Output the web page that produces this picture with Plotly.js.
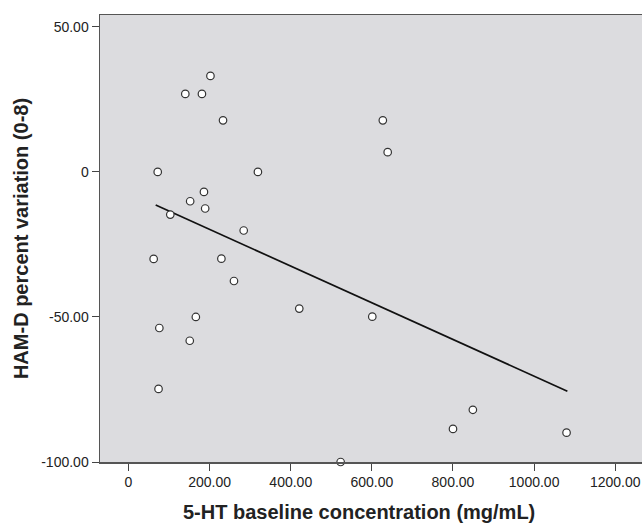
<!DOCTYPE html>
<html>
<head>
<meta charset="utf-8">
<script src="https://cdn.plot.ly/plotly-3.0.1.min.js"></script>
<style>
html,body{margin:0;padding:0;overflow:hidden;background:#fff;width:642px;height:530px;}
#chart{width:660px;height:530px;}
</style>
</head>
<body>
<div id="chart"></div>
<script>
// 5-HT baseline concentration (x) vs HAM-D percent variation (y)
var serotonin = [202, 140, 181, 233, 627, 639, 72, 319, 186, 152, 189, 103, 284, 62, 229, 260, 421, 601, 166, 76, 151, 74, 849, 800, 1080, 523];
var hamdVariation = [33.1, 26.9, 26.9, 17.8, 17.8, 6.8, 0, 0, -6.9, -10.1, -12.6, -14.7, -20.2, -30, -29.9, -37.6, -47.1, -49.9, -50, -53.8, -58.2, -74.8, -82, -88.6, -89.9, -100];
// fitted regression line end points
var fitX = [67, 1082];
var fitY = [-11.4, -75.6];
// axis ticks
var xTickVals = [0, 200, 400, 600, 800, 1000, 1200];
var xTickText = ["0", "200.00", "400.00", "600.00", "800.00", "1000.00", "1200.00"];
var yTickVals = [50, 0, -50, -100];
var yTickText = ["50.00", "0", "-50.00", "-100.00"];

var traces = [
  {
    x: fitX, y: fitY, type: 'scatter', mode: 'lines',
    line: {color: '#111111', width: 1.7}, hoverinfo: 'skip', showlegend: false, cliponaxis: false
  },
  {
    x: serotonin, y: hamdVariation, type: 'scatter', mode: 'markers',
    marker: {symbol: 'circle', size: 7.5, color: '#ffffff', line: {color: '#333333', width: 1.2}},
    showlegend: false, cliponaxis: false
  }
];

var fontFam = '"Liberation Sans", Arial, Helvetica, sans-serif';
var layout = {
  width: 660, height: 530,
  margin: {l: 100, r: 12, t: 15, b: 68},
  paper_bgcolor: '#ffffff',
  plot_bgcolor: '#dcdcdf',
  font: {family: fontFam, color: '#222222'},
  xaxis: {
    range: [-70.3, 1280.8],
    tickmode: 'array', tickvals: xTickVals, ticktext: xTickText,
    ticks: 'outside', ticklen: 7, tickwidth: 1, tickcolor: '#444444',
    tickfont: {size: 14, color: '#222222', family: fontFam},
    showgrid: false, zeroline: false,
    showline: true, linecolor: '#555555', linewidth: 1.5, mirror: true,
    fixedrange: true
  },
  yaxis: {
    range: [-100, 54.1],
    tickmode: 'array', tickvals: yTickVals, ticktext: yTickText,
    ticks: 'outside', ticklen: 7, tickwidth: 1, tickcolor: '#444444',
    tickfont: {size: 14, color: '#222222', family: fontFam},
    showgrid: false, zeroline: false,
    showline: true, linecolor: '#555555', linewidth: 1.5, mirror: true,
    automargin: false,
    title: {text: 'HAM-D percent variation (0-8)', font: {size: 20, color: '#222222', family: fontFam, weight: 'bold'}, standoff: 7},
    fixedrange: true
  },
  annotations: [
    {
      text: '<b>5-HT baseline concentration (mg/mL)</b>',
      xref: 'paper', yref: 'paper', x: 0.4726, y: 0,
      xanchor: 'center', yanchor: 'top', yshift: -37,
      showarrow: false,
      font: {size: 20, color: '#222222', family: fontFam}
    }
  ]
};

Plotly.newPlot('chart', traces, layout, {displayModeBar: false, staticPlot: true});
</script>
</body>
</html>
